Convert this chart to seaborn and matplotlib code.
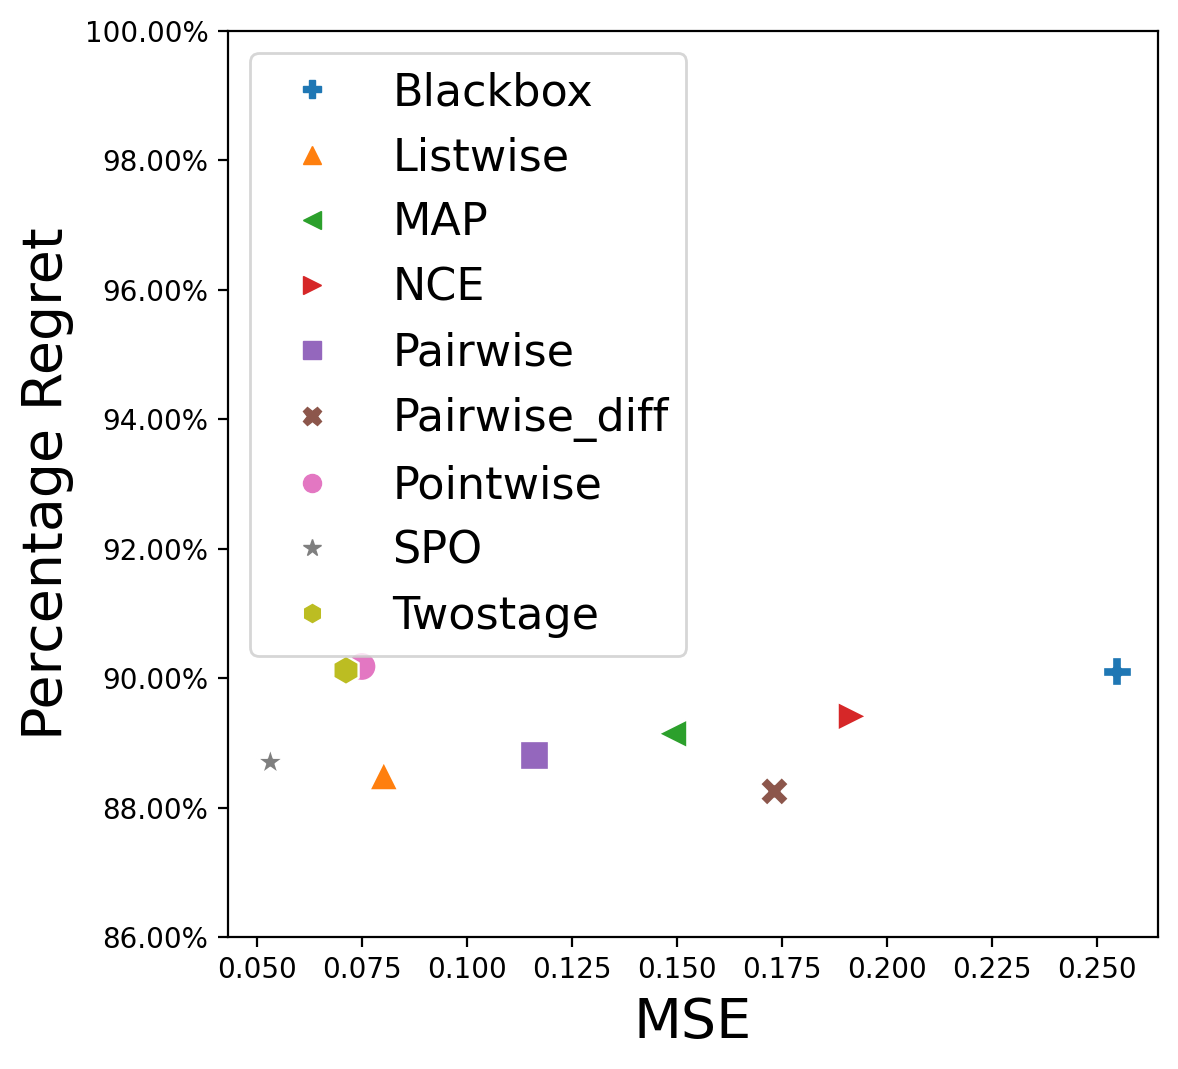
import matplotlib
matplotlib.use("Agg")
import matplotlib.pyplot as plt
from matplotlib.ticker import PercentFormatter
import seaborn as sns
import pandas as pd

# values
methods = ["Blackbox", "Listwise", "MAP", "NCE", "Pairwise",
           "Pairwise_diff", "Pointwise", "SPO", "Twostage"]
mse = [0.2548, 0.0802, 0.1490, 0.1917, 0.1160, 0.1732, 0.0750, 0.0532, 0.0712]
regret = [90.10, 88.49, 89.14, 89.41, 88.81, 88.25, 90.18, 88.70, 90.12]
marker_list = ["P", "^", "<", ">", "s", "X", "o", "*", "h"]

df = pd.DataFrame({"method": methods, "MSE": mse, "regret": regret})

fig, ax = plt.subplots(figsize=(5.89, 5.345), dpi=200)
fig.subplots_adjust(left=0.1935, right=0.983, top=0.971, bottom=0.1235)

sns.scatterplot(data=df, x="MSE", y="regret", hue="method", style="method",
                markers=dict(zip(methods, marker_list)), s=110, ax=ax)

ax.set_xlim(0.0431, 0.2645)
ax.set_ylim(86, 100)
ax.set_xticks([0.05, 0.075, 0.1, 0.125, 0.15, 0.175, 0.2, 0.225, 0.25])
ax.yaxis.set_major_formatter(PercentFormatter(xmax=100, decimals=2))
ax.set_xlabel("MSE", fontsize=20)
ax.set_ylabel("Percentage Regret", fontsize=20)
leg = ax.legend(loc="upper left", fontsize=16)
for h in leg.legend_handles:
    if hasattr(h, "set_markersize"):
        h.set_markersize(6.5)
        h.set_markeredgecolor(h.get_markerfacecolor())
        h.set_markeredgewidth(0.5)
    else:
        h.set_sizes([42])
        h.set_edgecolor(h.get_facecolor())
        h.set_linewidth(0.5)

plt.savefig("out.png", dpi=200)
